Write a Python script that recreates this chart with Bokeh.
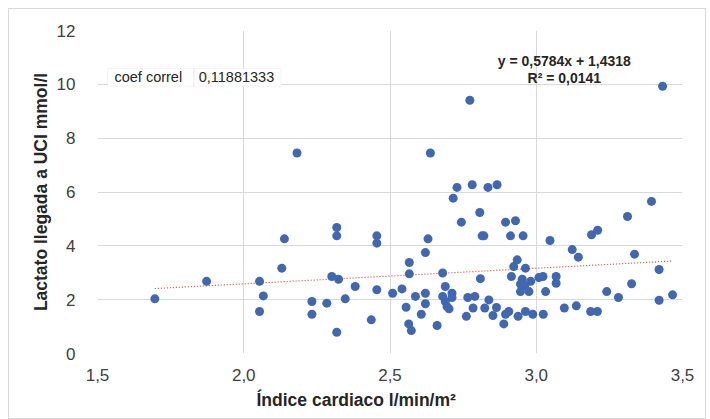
from bokeh.plotting import figure
from bokeh.models import Range1d, Label, ColumnDataSource, FixedTicker, BoxAnnotation, Title
from bokeh.embed import file_html
from bokeh.resources import INLINE

# Data: cardiac index (l/min/m2) vs lactate on ICU arrival (mmol/l)
indice = [1.696, 1.873, 2.054, 2.067, 2.054, 2.130, 2.139, 2.182, 2.233, 2.233,
          2.284, 2.318, 2.301, 2.324, 2.318, 2.318, 2.347, 2.381, 2.436, 2.455,
          2.455, 2.455, 2.509, 2.541, 2.555, 2.566, 2.566, 2.564, 2.573, 2.587,
          2.607, 2.621, 2.621, 2.621, 2.630, 2.638, 2.661, 2.680, 2.689, 2.680,
          2.689, 2.695, 2.702, 2.712, 2.712, 2.716, 2.729, 2.744, 2.761, 2.766,
          2.773, 2.781, 2.784, 2.790, 2.807, 2.809, 2.815, 2.821, 2.824, 2.835,
          2.838, 2.852, 2.864, 2.866, 2.889, 2.895, 2.895, 2.906, 2.912, 2.915,
          2.923, 2.929, 2.935, 2.938, 2.946, 2.946, 2.952, 2.955, 2.961, 2.963,
          2.963, 2.975, 2.981, 2.988, 3.009, 3.023, 3.024, 3.032, 3.047, 3.068,
          3.068, 3.096, 3.123, 3.137, 3.144, 3.186, 3.189, 3.209, 3.210, 3.241,
          3.281, 3.312, 3.326, 3.336, 3.394, 3.420, 3.420, 3.432, 3.466]
lactato = [2.03, 2.68, 2.68, 2.14, 1.56, 3.17, 4.26, 7.45, 1.93, 1.46,
           1.87, 0.79, 2.86, 2.76, 4.68, 4.37, 2.03, 2.49, 1.25, 2.37,
           4.37, 4.10, 2.24, 2.40, 1.72, 3.38, 2.96, 1.10, 0.85, 2.12,
           1.46, 2.24, 1.85, 3.75, 4.26, 7.45, 1.04, 2.99, 2.49, 2.12,
           1.93, 1.74, 1.66, 2.24, 2.08, 5.77, 6.17, 4.88, 1.38, 2.08,
           9.41, 6.27, 1.69, 2.12, 5.24, 2.78, 4.37, 4.37, 1.69, 6.17,
           1.99, 1.41, 1.71, 6.27, 1.10, 1.46, 4.88, 1.56, 4.37, 2.86,
           3.23, 4.93, 3.48, 1.38, 2.58, 2.30, 2.76, 4.37, 2.53, 3.17,
           1.56, 2.30, 2.68, 1.46, 2.82, 2.86, 1.46, 2.30, 4.20, 2.86,
           2.61, 1.69, 3.86, 1.77, 3.58, 1.56, 4.41, 1.56, 4.58, 2.30,
           2.08, 5.09, 2.59, 3.69, 5.65, 3.12, 1.98, 9.93, 2.18]

slope = 0.5784
intercept = 1.4318
eq_text = "y = 0,5784x + 1,4318"
r2_text = "R² = 0,0141"
correl_label = "coef correl"
correl_value = "0,11881333"
x_title = "Índice cardiaco l/min/m²"
y_title = "Lactato llegada a UCI mmol/l"
x_ticks = [1.5, 2.0, 2.5, 3.0, 3.5]
x_tick_labels = ["1,5", "2,0", "2,5", "3,0", "3,5"]
y_ticks = [0, 2, 4, 6, 8, 10, 12]

FONT = "Liberation Sans"

p = figure(width=698, height=411, output_backend="svg", toolbar_location=None,
           x_range=Range1d(1.5, 3.5), y_range=Range1d(0, 12),
           min_border_left=88, min_border_right=25, min_border_top=21,
           min_border_bottom=67)
p.styles = {"margin-left": "8px", "margin-top": "8px",
            "border": "1px solid #d9d9d9"}
p.outline_line_color = None
p.background_fill_color = "white"

# trend line
xs = [min(indice), max(indice)]
ys = [slope * v + intercept for v in xs]
p.line(xs, ys, line_color="#e0402a", line_width=1.2, line_dash="1 2")

src = ColumnDataSource(dict(x=indice, y=lactato))
p.scatter("x", "y", source=src, size=9, fill_color="#4068b2",
          line_color="#4068b2", line_width=0)

for ax in (p.xaxis, p.yaxis):
    ax.axis_line_color = None
    ax.major_tick_line_color = None
    ax.minor_tick_line_color = None
    ax.major_label_text_font = FONT
    ax.major_label_text_font_size = "17px"
    ax.major_label_text_color = "#404040"
    ax.axis_label_text_font = FONT
    ax.axis_label_text_font_style = "bold"
    ax.axis_label_text_font_size = "17.5px"
    ax.axis_label_text_color = "#262626"

p.xaxis.ticker = FixedTicker(ticks=x_ticks)
p.xaxis.major_label_overrides = {t: l for t, l in zip(x_ticks, x_tick_labels)}
p.yaxis.ticker = FixedTicker(ticks=y_ticks)
p.yaxis.axis_label = y_title
p.xaxis.major_label_standoff = 9
p.yaxis.major_label_standoff = 16
p.yaxis.axis_label_standoff = 3

# x-axis title, placed slightly left of the frame centre as in the original
p.add_layout(Title(text=x_title, align="left", offset=159, standoff=8,
                   text_font=FONT, text_font_style="bold",
                   text_font_size="17.5px", text_color="#262626"), "below")

p.xgrid.grid_line_color = "#d9d9d9"
p.ygrid.grid_line_color = "#d9d9d9"
p.xgrid.ticker = FixedTicker(ticks=x_ticks)
p.ygrid.ticker = FixedTicker(ticks=y_ticks)

# correlation box
p.add_layout(BoxAnnotation(left=1.534, right=2.127, top=10.59, bottom=9.93,
                           fill_color="white", fill_alpha=1,
                           line_color="#d9d9d9", line_width=1))
p.add_layout(BoxAnnotation(left=1.829, right=1.829, top=10.59, bottom=9.93,
                           fill_alpha=0, line_color="#d9d9d9", line_width=1))
p.add_layout(Label(x=1.558, y=10.26, text=correl_label, text_font=FONT,
                   text_font_size="14.5px", text_color="#262626",
                   text_baseline="middle"))
p.add_layout(Label(x=1.846, y=10.26, text=correl_value, text_font=FONT,
                   text_font_size="14.5px", text_color="#262626",
                   text_baseline="middle"))

# equation
p.add_layout(Label(x=3.096, y=10.86, text=eq_text, text_font=FONT,
                   text_font_style="bold", text_font_size="14px",
                   text_color="#262626", text_align="center",
                   text_baseline="middle"))
p.add_layout(Label(x=3.096, y=10.22, text=r2_text, text_font=FONT,
                   text_font_style="bold", text_font_size="14px",
                   text_color="#262626", text_align="center",
                   text_baseline="middle"))

open("out.html", "w").write(file_html(p, INLINE))
